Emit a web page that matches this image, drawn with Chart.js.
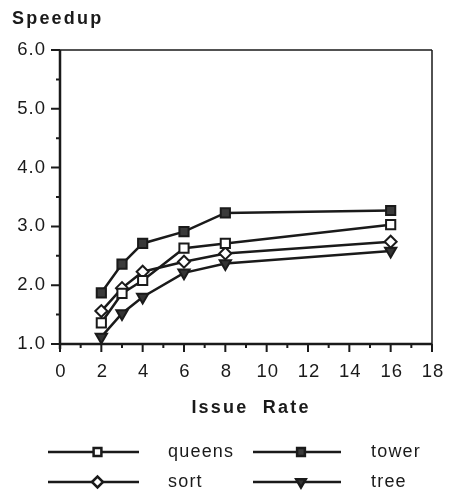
<!DOCTYPE html>
<html>
<head>
<meta charset="utf-8">
<script src="https://cdn.jsdelivr.net/npm/chart.js@4.4.1/dist/chart.umd.min.js"></script>
<style>
  html, body { margin: 0; padding: 0; background: #fff; }
  #wrap { width: 450px; height: 497px; position: relative; }
</style>
</head>
<body>
<div id="wrap"><canvas id="chart-speedup"></canvas></div>
<script>
// data
const issueRates = [2, 3, 4, 6, 8, 16];
const queens = [1.36, 1.86, 2.08, 2.63, 2.71, 3.03];
const tower  = [1.87, 2.36, 2.71, 2.91, 3.23, 3.27];
const sort   = [1.56, 1.95, 2.23, 2.40, 2.54, 2.74];
const tree   = [1.12, 1.52, 1.80, 2.21, 2.37, 2.58];
const yTicks = [1, 2, 3, 4, 5, 6];
const xTicks = [0, 2, 4, 6, 8, 10, 12, 14, 16, 18];

const INK = '#1a1a1a';
const FONT = "'Liberation Sans', Arial, Helvetica, sans-serif";

function points(values) {
    return issueRates.map((x, i) => ({ x, y: values[i] }));
}

function series(label, values, style) {
    return {
        label,
        data: points(values),
        showLine: true,
        borderColor: INK,
        borderWidth: 2.5,
        pointBorderColor: INK,
        pointBorderWidth: 2,
        ...style
    };
}

const datasets = [
    series('queens', queens, { pointStyle: 'rect', pointRadius: 6.5, pointBackgroundColor: '#fff' }),
    series('tower', tower, { pointStyle: 'rect', pointRadius: 6.5, pointBackgroundColor: '#3a3a3a' }),
    series('sort', sort, { pointStyle: 'rectRot', pointRadius: 6, pointBackgroundColor: '#fff' }),
    series('tree', tree, { pointStyle: 'triangle', pointRotation: 180, pointRadius: 6.5, pointBackgroundColor: '#333' })
];

// ticks, labels, frame, titles and legend drawn by hand
const decorPlugin = {
    id: 'decor',
    afterDraw(chart) {
        const { ctx, chartArea: a, scales: { x, y } } = chart;
        ctx.save();
        ctx.strokeStyle = INK;

        // top + right frame
        ctx.lineWidth = 1.5;
        ctx.beginPath();
        ctx.moveTo(a.left, a.top);
        ctx.lineTo(a.right, a.top);
        ctx.moveTo(a.right, a.top);
        ctx.lineTo(a.right, a.bottom + 6);
        ctx.stroke();

        // left + bottom axis
        ctx.lineWidth = 2.5;
        ctx.beginPath();
        ctx.moveTo(a.left, a.top);
        ctx.lineTo(a.left, a.bottom + 5);
        ctx.moveTo(a.left, a.bottom);
        ctx.lineTo(a.right, a.bottom);
        ctx.stroke();

        // y ticks (major on integers, minor on halves)
        ctx.lineWidth = 2;
        ctx.beginPath();
        for (let v = 1; v <= 6.001; v += 0.5) {
            const py = y.getPixelForValue(v);
            const len = Number.isInteger(v) ? 9 : 4;
            ctx.moveTo(a.left - len, py);
            ctx.lineTo(a.left, py);
        }
        // x ticks (major on evens, minor on odds)
        for (let v = 0; v <= 18; v++) {
            const px = x.getPixelForValue(v);
            const len = v % 2 === 0 ? 8 : 4;
            ctx.moveTo(px, a.bottom);
            ctx.lineTo(px, a.bottom + len);
        }
        ctx.stroke();

        // tick labels
        ctx.fillStyle = INK;
        ctx.font = `18.5px ${FONT}`;
        ctx.letterSpacing = '1px';
        ctx.textBaseline = 'middle';
        ctx.textAlign = 'right';
        yTicks.forEach(v => ctx.fillText(v.toFixed(1), 46, y.getPixelForValue(v)));
        ctx.textAlign = 'center';
        xTicks.forEach(v => ctx.fillText(String(v), x.getPixelForValue(v) + 1, 372));

        // titles
        ctx.font = `bold 18px ${FONT}`;
        ctx.letterSpacing = '2.2px';
        ctx.textAlign = 'left';
        ctx.fillText('Speedup', 12, 19);
        ctx.textAlign = 'center';
        ctx.fillText('Issue  Rate', 251, 408);

        // legend, 2 x 2
        const slots = [
            { lx: 48, rx: 139, tx: 168, y: 452 },
            { lx: 253, rx: 341, tx: 371, y: 452 },
            { lx: 48, rx: 139, tx: 168, y: 482 },
            { lx: 253, rx: 341, tx: 371, y: 482 }
        ];
        chart.data.datasets.forEach((ds, i) => {
            const s = slots[i];
            ctx.strokeStyle = INK;
            ctx.lineWidth = 2.5;
            ctx.beginPath();
            ctx.moveTo(s.lx, s.y);
            ctx.lineTo(s.rx, s.y);
            ctx.stroke();

            ctx.fillStyle = ds.pointBackgroundColor;
            ctx.strokeStyle = INK;
            Chart.helpers.drawPoint(ctx, {
                pointStyle: ds.pointStyle,
                rotation: ds.pointRotation || 0,
                radius: 5.5,
                borderWidth: 2
            }, (s.lx + s.rx) / 2 + 4, s.y);

            ctx.fillStyle = INK;
            ctx.font = `18px ${FONT}`;
            ctx.letterSpacing = '1.2px';
            ctx.textAlign = 'left';
            ctx.textBaseline = 'middle';
            ctx.fillText(ds.label, s.tx, s.y);
        });
        ctx.restore();
    }
};

new Chart(document.getElementById('chart-speedup').getContext('2d'), {
    type: 'scatter',
    data: { datasets },
    options: {
        responsive: true,
        maintainAspectRatio: false,
        animation: false,
        layout: { padding: { top: 50, right: 18, left: 0, bottom: 0 } },
        plugins: { legend: { display: false }, tooltip: { enabled: false } },
        scales: {
            x: {
                type: 'linear',
                min: 0,
                max: 18,
                afterFit: scale => { scale.height = 153; },
                grid: { display: false },
                border: { display: false },
                ticks: { display: false }
            },
            y: {
                min: 1,
                max: 6,
                afterFit: scale => { scale.width = 60; },
                grid: { display: false },
                border: { display: false },
                ticks: { display: false }
            }
        }
    },
    plugins: [decorPlugin]
});
</script>
</body>
</html>
